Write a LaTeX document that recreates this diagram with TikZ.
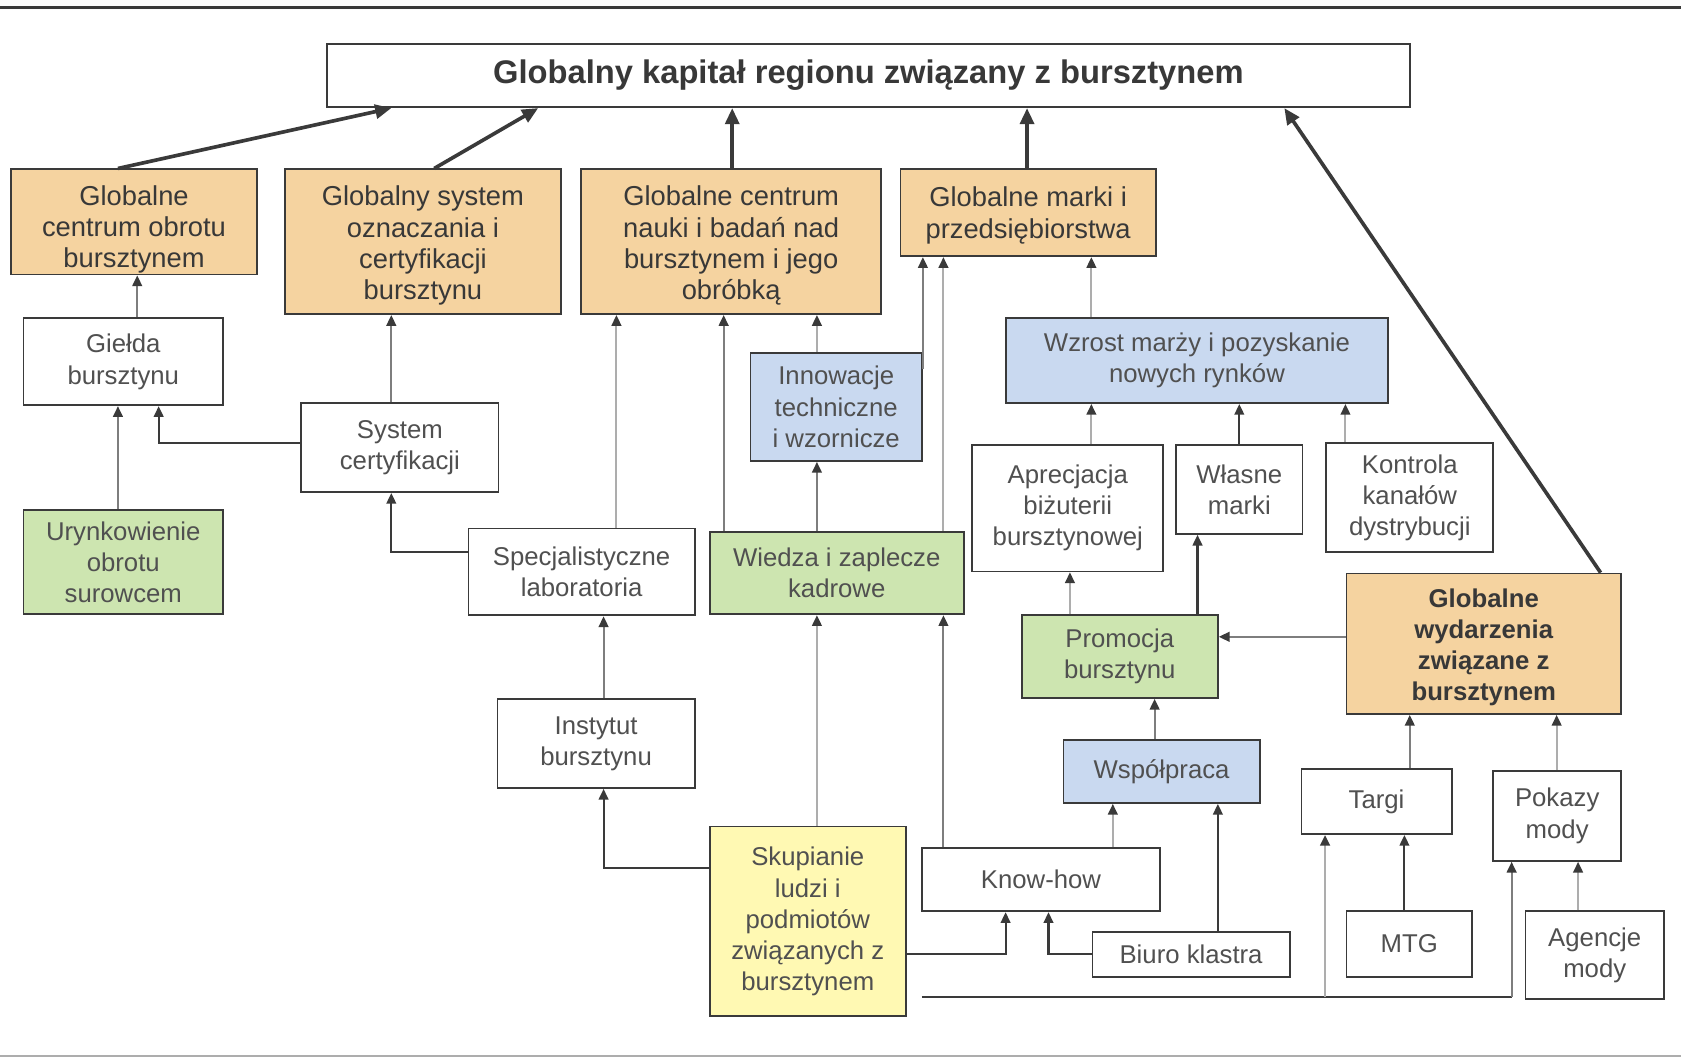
\documentclass[tikz,border=0pt]{standalone}
\usepackage{fontspec}
\setmainfont{Liberation Sans}
\usetikzlibrary{arrows.meta}
\definecolor{dk}{HTML}{3A3A3A}
\definecolor{md}{HTML}{7E7E7E}
\definecolor{lt}{HTML}{ADADAD}
\definecolor{orfill}{HTML}{F5D3A0}
\definecolor{blfill}{HTML}{C9D9F0}
\definecolor{grfill}{HTML}{CDE5B0}
\definecolor{yefill}{HTML}{FFF9B3}
\definecolor{txt}{HTML}{505050}
\definecolor{txtd}{HTML}{383838}
\begin{document}
\begin{tikzpicture}[x=1pt,y=-1pt,
 base/.style={draw=dk, line width=1.7pt, align=center, inner sep=2pt, text=txt, font=\fontsize{24}{29}\selectfont},
 wbox/.style={base, fill=white},
 obox/.style={base, fill=orfill},
 otxt/.style={align=center, inner sep=0pt, text=txtd, font=\fontsize{25.5}{29}\selectfont},
 obtxt/.style={otxt, font=\fontsize{24}{29}\selectfont\bfseries},
 bluebox/.style={base, fill=blfill},
 gbox/.style={base, fill=grfill},
 ybox/.style={base, fill=yefill},
 tbox/.style={base, fill=white, text=txtd, font=\fontsize{30.5}{36}\selectfont\bfseries},
 thk/.style={draw=dk, line width=3.4pt, -{Triangle[length=15pt,width=13pt]}},
 ar/.style={line width=1.9pt, -{Triangle[length=10pt,width=9pt,color=dk]}},
 adk/.style={ar, draw=dk},
 amd/.style={ar, draw=md},
 alt/.style={ar, draw=lt},
]
\useasboundingbox (0,0) rectangle (1568,988);
\fill[white] (0,0) rectangle (1568,988);
\draw[dk, line width=2pt] (0,7) -- (1568,7);
\draw[lt, line width=1.5pt] (0,985) -- (1568,985);

% title
\node[tbox, minimum width=1010pt, minimum height=59pt] (T) at (810,70.5) {\raisebox{-1.5pt}{Globalny kapitał regionu związany z bursztynem}};

% orange
\node[obox, minimum width=230pt, minimum height=98pt] (O1) at (125,207) {};
\node[otxt] (O1t) at ([yshift=-7pt]O1.center) {Globalne\\centrum obrotu\\bursztynem};
\node[obox, minimum width=257pt, minimum height=135pt] (O2) at (394.5,225.5) {};
\node[otxt] (O2t) at ([yshift=-3.5pt]O2.center) {Globalny system\\oznaczania i\\certyfikacji\\bursztynu};
\node[obox, minimum width=280pt, minimum height=135pt] (O3) at (682,225.5) {};
\node[otxt] (O3t) at ([yshift=-3.5pt]O3.center) {Globalne centrum\\nauki i badań nad\\bursztynem i jego\\obróbką};
\node[obox, minimum width=238pt, minimum height=81pt] (O4) at (959,198.5) {};
\node[otxt] (O4t) at ([yshift=-2.5pt]O4.center) {Globalne marki i\\przedsiębiorstwa};
\node[obox, minimum width=256pt, minimum height=131pt] (O5) at (1384,600.5) {};
\node[obtxt] (O5t) at ([yshift=-3.5pt]O5.center) {Globalne\\wydarzenia\\związane z\\bursztynem};

% white
\node[wbox, minimum width=186pt, minimum height=81pt] (Gie) at (115,337.5) {Giełda\\bursztynu};
\node[wbox, minimum width=184pt, minimum height=83pt] (Sys) at (373,417.5) {System\\certyfikacji};
\node[wbox, minimum width=211pt, minimum height=81pt] (Spec) at (542.5,533.5) {Specjalistyczne\\laboratoria};
\node[wbox, minimum width=184pt, minimum height=83pt] (Inst) at (556,693.5) {Instytut\\bursztynu};
\node[wbox, minimum width=178pt, minimum height=118pt] (Apr) at (996,474) {Aprecjacja\\biżuterii\\bursztynowej};
\node[wbox, minimum width=118pt, minimum height=83pt] (Wla) at (1156,456.5) {Własne\\marki};
\node[wbox, minimum width=156pt, minimum height=102pt] (Kon) at (1315,464) {Kontrola\\kanałów\\dystrybucji};
\node[wbox, minimum width=222pt, minimum height=59pt] (Know) at (971,820.5) {Know-how};
\node[wbox, minimum width=184pt, minimum height=42pt] (Biu) at (1111,890) {Biuro klastra};
\node[wbox, minimum width=140pt, minimum height=61pt] (Tar) at (1284,747.5) {Targi};
\node[wbox, minimum width=117pt, minimum height=61pt] (MTG) at (1314.5,880.5) {MTG};
\node[wbox, minimum width=119pt, minimum height=84pt] (Pok) at (1452.5,761) {Pokazy\\mody};
\node[wbox, minimum width=129pt, minimum height=82pt] (Age) at (1487.5,891) {Agencje\\mody};

% blue
\node[bluebox, minimum width=160pt, minimum height=101pt] (Inn) at (780,379.5) {Innowacje\\techniczne\\i wzornicze};
\node[bluebox, minimum width=357pt, minimum height=79pt] (Wzr) at (1116.5,336.5) {Wzrost marży i pozyskanie\\nowych rynków};
\node[bluebox, minimum width=183pt, minimum height=59pt] (Wsp) at (1083.5,719.5) {Współpraca};

% green
\node[gbox, minimum width=186pt, minimum height=97pt] (Ury) at (115,524.5) {Urynkowienie\\obrotu\\surowcem};
\node[gbox, minimum width=237pt, minimum height=77pt] (Wie) at (780.5,534.5) {Wiedza i zaplecze\\kadrowe};
\node[gbox, minimum width=183pt, minimum height=77pt] (Pro) at (1044.5,612.5) {Promocja\\bursztynu};

% yellow
\node[ybox, minimum width=183pt, minimum height=177pt] (Sku) at (753.5,859.5) {Skupianie\\ludzi i\\podmiotów\\związanych z\\bursztynem};

% thick arrows to title
\draw[thk] (O1.north -| 110,0) -- (T.south -| 365,0);
\draw[thk] (O2.north -| 405,0) -- (T.south -| 502,0);
\draw[thk] (O3.north -| 683,0) -- (T.south -| 683,0);
\draw[thk] (O4.north -| 958,0) -- (T.south -| 958,0);
\draw[thk] (O5.north -| 1493,0) -- (T.south -| 1198,0);

% thin arrows
\draw[amd] (Gie.north -| 128,0) -- (O1.south -| 128,0);
\draw[amd] (Ury.north -| 110,0) -- (Gie.south -| 110,0);
\draw[adk] (Sys.west |- 0,413) -| (Gie.south -| 148,0);
\draw[amd] (Sys.north -| 365,0) -- (O2.south -| 365,0);
\draw[adk] (Spec.west |- 0,515) -| (Sys.south -| 365,0);
\draw[alt] (Spec.north -| 575,0) -- (O3.south -| 575,0);
\draw[amd] (Inst.north -| 563,0) -- (Spec.south -| 563,0);
\draw[adk] (Sku.west |- 0,810) -| (Inst.south -| 563,0);
\draw[amd] (Wie.north -| 675,0) -- (O3.south -| 675,0);
\draw[alt] (Inn.north -| 762,0) -- (O3.south -| 762,0);
\draw[amd] (Wie.north -| 762,0) -- (Inn.south -| 762,0);
\draw[amd] ([yshift=-16pt]Inn.north east) -- (O4.south -| Inn.north east);
\draw[alt] (Wie.north -| 880,0) -- (O4.south -| 880,0);
\draw[alt] (Sku.north -| 762,0) -- (Wie.south -| 762,0);
\draw[amd] (Know.north -| 880,0) -- (Wie.south -| 880,0);
\draw[alt] (Wzr.north -| 1018,0) -- (O4.south -| 1018,0);
\draw[alt] (Apr.north -| 1018,0) -- (Wzr.south -| 1018,0);
\draw[adk] (Wla.north -| 1156,0) -- (Wzr.south -| 1156,0);
\draw[alt] (Kon.north -| 1255,0) -- (Wzr.south -| 1255,0);
\draw[alt] (Pro.north -| 998,0) -- (Apr.south -| 998,0);
\draw[adk] (Pro.north -| 1117,0) -- (Wla.south -| 1117,0);
\draw[amd] (O5.west |- 0,594) -- (Pro.east |- 0,594);
\draw[amd] (Wsp.north -| 1077,0) -- (Pro.south -| 1077,0);
\draw[alt] (Know.north -| 1038,0) -- (Wsp.south -| 1038,0);
\draw[adk] (Biu.north -| 1136,0) -- (Wsp.south -| 1136,0);
\draw[adk] (Sku.east |- 0,890) -| (Know.south -| 938,0);
\draw[adk] (Biu.west) -| (Know.south -| 978,0);

% bottom bus
\coordinate (bl) at (860,930);
\coordinate (br) at (1410,930);
\draw[dk, line width=1.9pt] (bl) -- (br);
\draw[amd] (br) -- (Pok.south -| br);
\draw[alt, line width=2.4pt] (bl -| 1236,0) -- (Tar.south -| 1236,0);
\draw[adk] (MTG.north -| 1310,0) -- (Tar.south -| 1310,0);
\draw[amd] (Tar.north -| 1315,0) -- (O5.south -| 1315,0);
\draw[alt] (Pok.north -| 1452,0) -- (O5.south -| 1452,0);
\draw[alt] (Age.north -| 1472,0) -- (Pok.south -| 1472,0);
\end{tikzpicture}
\end{document}
